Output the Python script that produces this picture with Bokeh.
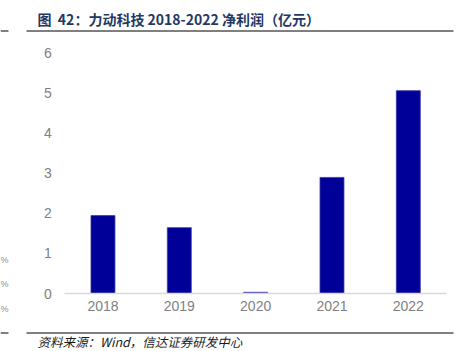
from bokeh.plotting import figure
from bokeh.models import Label, Range1d, FixedTicker
from bokeh.embed import file_html
from bokeh.resources import INLINE

years = ["2018", "2019", "2020", "2021", "2022"]
profit = [1.94, 1.64, 0.03, 2.89, 5.05]
y_ticks = [0, 1, 2, 3, 4, 5, 6]
title_text = "图\u00a0 42：力动科技 2018-2022 净利润（亿元）"
source_text = "资料来源：Wind，信达证券研发中心"

# ---- page geometry (canvas pixels); the frame covers the whole canvas ----
W, H = 468, 351
PLOT_L, PLOT_R = 64.3, 446.0               # category band of the chart
Y0_PX, Y6_PX = 293.0, 52.0                 # pixel rows of 0 and 6
ky = (Y0_PX - Y6_PX) / 6.0
kx = (PLOT_R - PLOT_L) / len(years)


def ydata(py):
    return (Y0_PX - py) / ky


def xdata(px):
    return -0.5 + (px - PLOT_L) / kx


xs = list(range(len(years)))

p = figure(width=W, height=H, x_range=Range1d(xdata(0), xdata(W)),
           y_range=Range1d(ydata(H), ydata(0)),
           output_backend="svg", toolbar_location=None, min_border=0)
p.outline_line_color = None
p.xgrid.grid_line_color = None
p.ygrid.grid_line_color = None

p.vbar(x=xs, top=profit, width=0.314, fill_color="#000099",
       line_color="#3a3aa8", line_width=0.8)

# y axis drawn at the left edge of the category band
p.yaxis.fixed_location = -0.5
p.yaxis.ticker = FixedTicker(ticks=y_ticks)
p.yaxis.axis_line_color = None
p.yaxis.major_tick_line_color = None
p.yaxis.minor_tick_line_color = None
p.yaxis.major_tick_out = 0
p.yaxis.major_tick_in = 0
p.yaxis.major_label_text_color = "#7f7f7f"
p.yaxis.major_label_text_font = "Liberation Sans"
p.yaxis.major_label_text_font_size = "14px"
p.yaxis.major_label_standoff = 13

# x axis drawn at y = 0, limited to the category band
p.xaxis.fixed_location = 0
p.xaxis.bounds = (-0.5, len(years) - 0.5)
p.xaxis.ticker = FixedTicker(ticks=xs)
p.xaxis.major_label_overrides = {i: y for i, y in zip(xs, years)}
p.xaxis.axis_line_color = "#d9d9d9"
p.xaxis.axis_line_width = 1.5
p.xaxis.major_tick_line_color = None
p.xaxis.minor_tick_line_color = None
p.xaxis.major_tick_out = 0
p.xaxis.major_tick_in = 0
p.xaxis.major_label_text_color = "#7f7f7f"
p.xaxis.major_label_text_font = "Liberation Sans"
p.xaxis.major_label_text_font_size = "14px"
p.xaxis.major_label_standoff = 7

# rules under the title and above the source (plus fragments at far left)
rule_x0 = [xdata(26), xdata(0), xdata(26), xdata(0)]
rule_x1 = [xdata(453), xdata(8), xdata(453), xdata(8)]
rule_y = [ydata(30.5), ydata(30.5), ydata(332.5), ydata(332.5)]
p.segment(x0=rule_x0, y0=rule_y, x1=rule_x1, y1=rule_y,
          line_color="#000000", line_width=1)

# title and source (screen units measured from bottom-left of the frame)
p.add_layout(Label(x=37, y=H - 18, x_units="screen", y_units="screen",
                   text=title_text, text_baseline="middle",
                   text_font="Noto Sans CJK SC", text_font_style="bold",
                   text_font_size="14px", text_color="#1f3864"))
p.add_layout(Label(x=37, y=H - 341, x_units="screen", y_units="screen",
                   text=source_text, text_baseline="middle",
                   text_font="Noto Sans CJK SC", text_font_style="italic",
                   text_font_size="12.5px", text_color="#1a1a1a"))

# "%" fragments at the far left edge (from a neighbouring column)
for py in (259, 283, 308):
    p.add_layout(Label(x=0, y=H - py, x_units="screen", y_units="screen",
                       text="%", text_align="left", text_baseline="middle",
                       text_font="Liberation Sans", text_font_size="9px",
                       text_color="#8c8c8c"))

open("out.html", "w").write(file_html(p, INLINE))
